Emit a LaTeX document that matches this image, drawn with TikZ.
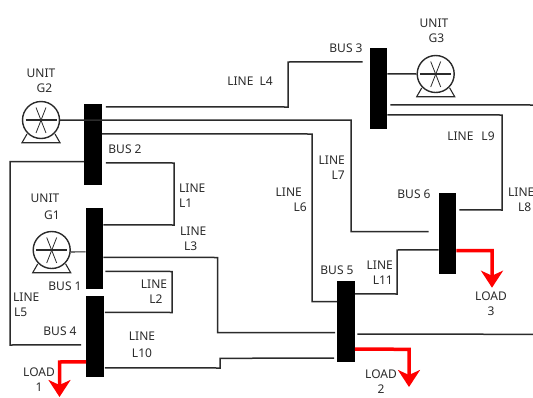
\documentclass[tikz,border=0pt]{standalone}
\usepackage{fontspec}
\setmainfont{Noto Sans}
\usetikzlibrary{arrows.meta, calc}
\definecolor{wiredark}{HTML}{2B2B2B}
\definecolor{loadred}{HTML}{FF0000}
\tikzset{
  busbar/.style={fill=black, draw=none, minimum width=17.5pt, minimum height=81pt, inner sep=0pt},
  wire/.style={wiredark, line width=1.5pt},
  loadwire/.style={loadred, line width=3.5pt, -{Stealth[length=17pt, width=22pt, inset=5pt]}},
  unitbody/.style={circle, draw=wiredark, line width=1.4pt, minimum size=37pt, inner sep=0pt},
  lbl/.style={text=wiredark, font=\fontsize{12}{15}\selectfont, align=center, inner sep=0pt}
}
\begin{document}
\begin{tikzpicture}[x=1pt, y=-1pt]

\useasboundingbox (0,0) rectangle (533,397);

% ================================================================
% Bus bars
% ================================================================
\node[busbar] (bus1) at (94.5,248.5) {};
\node[busbar] (bus2) at (93,144.5) {};
\node[busbar] (bus3) at (378.5,88) {};
\node[busbar] (bus4) at (95,336) {};
\node[busbar] (bus5) at (346,321) {};
\node[busbar] (bus6) at (447.5,233) {};

% ================================================================
% Generating units
% ================================================================
\foreach \gname/\gx/\gy in {unit1/51.7/250, unit2/41/120, unit3/435.7/74} {
  \node[unitbody] (\gname) at (\gx,\gy) {};
  \draw[wire, line width=1.2pt] ($(\gname)+(-15.5,0)$) -- ($(\gname)+(15.5,0)$);
  \draw[wire, line width=0.8pt] ($(\gname)+(-5,-12.5)$) -- ($(\gname)+(5,13)$);
  \draw[wire, line width=0.8pt] ($(\gname)+(5,-12.5)$) -- ($(\gname)+(-5,13)$);
  % Feet and base
  \draw[wire, line width=1.1pt] ($(\gname)+(-14,14)$) -- ($(\gname)+(-19,22.7)$)
    -- ($(\gname)+(19,22.7)$) -- ($(\gname)+(14,14)$);
}

% Unit leads
\draw[wire, line width=1.1pt] (unit1.east |- 0,252) -- ($(bus1.north west)+(0,44)$);
\draw[wire] (unit3.west) -- ($(bus3.north east)+(0,26.5)$);

% ================================================================
% Lines between buses
% ================================================================
% L1
\draw[wire] ($(bus2.north east)+(4,59)$) -- (174,163) -- (174,225) -- ($(bus1.north east)+(0,17)$);
% L2
\draw[wire] ($(bus1.north east)+(2,63.5)$) -- (172,271.5) -- (172,312.5) -- ($(bus4.north east)+(1,17)$);
% L3
\draw[wire] ($(bus1.north east)+(0,49.5)$) -- (217.5,257.5) -- (217.5,332.7) -- ($(bus5.north west)+(-2,52.2)$);
% L4
\draw[wire] ($(bus2.north east)+(4,3)$) -- (288,107) -- (288,62) -- ($(bus3.north west)+(-7,14.5)$);
% L5
\draw[wire] (bus2.north west |- 0,161.7) -- (10,161.7) -- (10,345) -- ($(bus4.north west)+(-5,49.5)$);
% L6
\draw[wire] ($(bus2.north east)+(0,30)$) -- (312,134) -- (312,301.7) -- ($(bus5.north west)+(0,21.2)$);
% L7, fed straight from unit G2 through bus 2
\draw[wire] (unit2.east) -- (351,120) -- (351,231.7) -- ($(bus6.north west)+(-10,39.2)$);
% L8, L9
\draw[wire] ($(bus3.north east)+(0,67.5)$) -- (502,115) -- (502,210) -- ($(bus6.north east)+(3,17.5)$);
\draw[wire] ($(bus3.north east)+(3,57.5)$) -- (533,105);
% L10
\draw[wire] ($(bus4.north east)+(1,72.5)$) -- (220,368) -- (220,358.3) -- ($(bus5.north west)+(-3,77.8)$);
% L11
\draw[wire] ($(bus5.north east)+(0,13.5)$) -- (397,294) -- (397,250) -- ($(bus6.north west)+(0,57.5)$);
% Line leaving bus 5
\draw[wire] ($(bus5.north east)+(2.5,53.8)$) -- (533,334.3);

% ================================================================
% Loads
% ================================================================
\coordinate (load1tip) at (59.5,397);
\coordinate (load2tip) at (409,387);
\coordinate (load3tip) at (492,287.7);
\draw[loadwire] ($(bus4.north west)+(0,66.5)$) -- (59.5,362) -- (load1tip);
\draw[loadwire] ($(bus5.north east)+(0,68.8)$) -- (409,349.3) -- (load2tip);
\draw[loadwire] ($(bus6.north east)+(0,58.2)$) -- (492,250.7) -- (load3tip);

% ================================================================
% Labels
% ================================================================
\node[lbl] (lblg2) at (41,81) {UNIT\\\hspace*{7pt}G2};
\node[lbl] (lblg1) at (45,206.5) {UNIT\\[2pt]\hspace*{14pt}G1};
\node[lbl] (lblg3) at (434,30.5) {UNIT\\\hspace*{5pt}G3};
\node[lbl] (lblb1) at (65,286) {BUS 1};
\node[lbl] (lblb2) at (125,149) {BUS 2};
\node[lbl] (lblb3) at (346,48) {BUS 3};
\node[lbl] (lblb4) at (60,331) {BUS 4};
\node[lbl] (lblb5) at (337,270) {BUS 5};
\node[lbl] (lblb6) at (414,194) {BUS 6};
\node[lbl, align=left, anchor=west] (lbll1) at (179,196) {LINE\\L1};
\node[lbl] (lbll2) at (154,292) {LINE\\\hspace*{4pt}L2};
\node[lbl, align=left, anchor=west] (lbll3) at (180,239) {LINE\\\hspace*{4pt}L3};
\node[lbl] (lbll4) at (250,81) {LINE\hspace{6pt}L4};
\node[lbl, align=left, anchor=west] (lbll5) at (13,305) {LINE\\\hspace*{1pt}L5};
\node[lbl, align=right, anchor=east] (lbll6) at (307,200) {LINE\hspace*{5pt}\\L6};
\node[lbl, align=right, anchor=east] (lbll7) at (345,167.5) {LINE\\L7};
\node[lbl, align=left, anchor=west] (lbll8) at (508,200) {LINE\\\hspace*{10pt}L8};
\node[lbl] (lbll9) at (471,136) {LINE\hspace{8pt}L9};
\node[lbl] (lbll10) at (142,344.5) {LINE\\[2pt]L10};
\node[lbl, align=right, anchor=east] (lbll11) at (393,273) {LINE\\L11};
\node[lbl] (lblload1) at (39,380) {LOAD\\1};
\node[lbl] (lblload2) at (381,382) {LOAD\\2};
\node[lbl] (lblload3) at (491,303.5) {LOAD\\3};

\end{tikzpicture}
\end{document}
